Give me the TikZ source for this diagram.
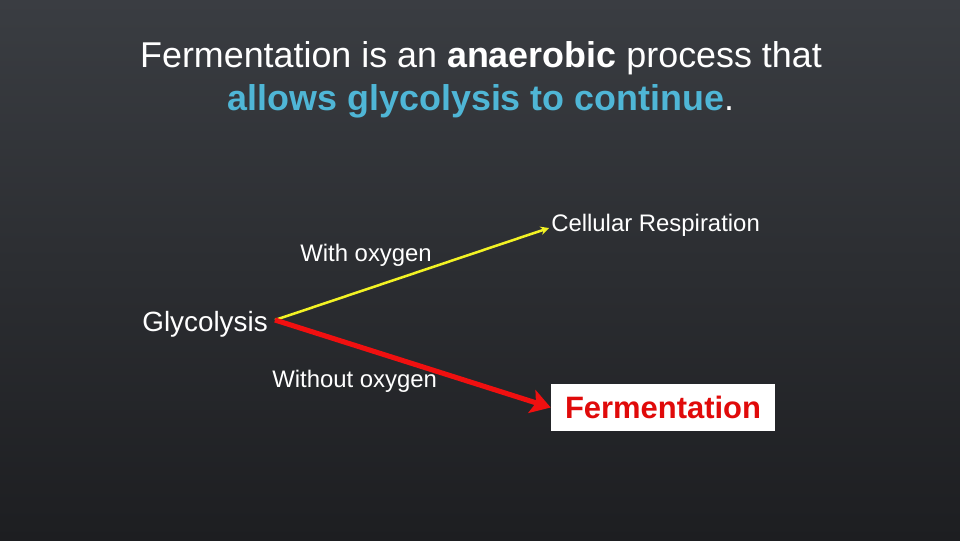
\documentclass[tikz,border=0pt]{standalone}
\usepackage{fontspec}
\setmainfont{Liberation Sans}
\usetikzlibrary{arrows.meta,calc}
\definecolor{bgtop}{HTML}{3A3D42}
\definecolor{bgbot}{HTML}{1D1E21}
\definecolor{cyanish}{HTML}{4FB6D6}
\definecolor{yel}{HTML}{F2F224}
\definecolor{redline}{HTML}{F01010}
\definecolor{redtext}{HTML}{E00A0A}
\tikzset{
    lbl/.style={text=white, inner sep=0pt, font=\fontsize{17}{20}\selectfont},
    title/.style={text=white, inner sep=0pt, align=center, font=\fontsize{25.5}{30.5}\selectfont},
}
\begin{document}
\begin{tikzpicture}[x=0.025cm, y=-0.025cm]
            \useasboundingbox (0,0) rectangle (960,540);
            \shade[top color=bgtop, bottom color=bgbot] (0,0) rectangle (960,540);

            \node[title] (head) at (481,80) {Fermentation is an \textbf{anaerobic} process that\\
                \textcolor{cyanish}{\textbf{allows glycolysis to continue}}.};

            \node[lbl, anchor=base east, font=\fontsize{19.8}{23}\selectfont, inner xsep=5pt] (glyc) at (275,331) {Glycolysis};
            \node[lbl, anchor=base west] (resp) at (551,231) {Cellular Respiration};
            \node[lbl, anchor=base west] (withO) at (300,261) {With oxygen};
            \node[lbl, anchor=base west] (withoutO) at (272,387) {Without oxygen};
            \node[fill=white, text=redtext, font=\fontsize{22}{26}\selectfont\bfseries,
                  minimum width=224*0.025cm, minimum height=47*0.025cm, inner sep=0pt] (ferm) at (663,407.5) {Fermentation};

            \coordinate (split) at ($(glyc.base east)+(0,-11)$);
            \draw[yel, line width=1.8pt, -{Stealth[length=6pt,width=6pt]}] (split) -- ($(resp.base west)+(-2,-3)$);
            \draw[redline, line width=3.6pt, -{Stealth[length=14pt,width=17pt,inset=3pt]}] (split) -- (ferm.west);
        \end{tikzpicture}
\end{document}
